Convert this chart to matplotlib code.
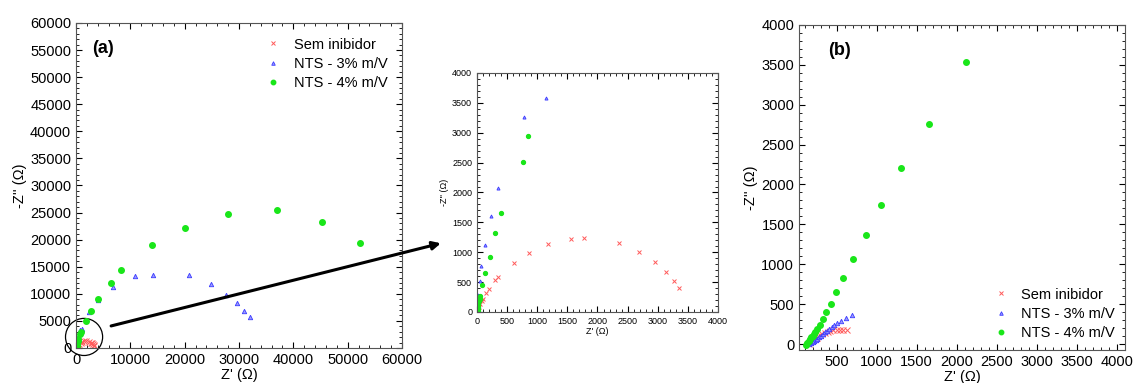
import matplotlib.pyplot as plt
from matplotlib.patches import Ellipse, ConnectionPatch
from matplotlib.ticker import MultipleLocator, AutoMinorLocator

plt.rcParams['font.family'] = ['Liberation Sans', 'DejaVu Sans']

# panel (a) / inset - full Nyquist data
semX = [20, 35, 55, 75, 100, 156, 200, 306, 356, 606, 856, 1172, 1556, 1783, 2350, 2683, 2950, 3139, 3278, 3361]
semY = [30, 80, 130, 180, 223, 318, 385, 530, 586, 820, 982, 1138, 1227, 1238, 1160, 1004, 837, 669, 524, 402]

nts3X = [12, 15, 18, 20, 25, 44, 72, 139, 239, 344, 785, 1150, 2340, 4000, 6840, 10790, 14180, 20840, 24780, 27620, 29650, 30950, 32060]
nts3Y = [40, 100, 170, 240, 290, 519, 764, 1127, 1612, 2075, 3260, 3580, 6600, 8830, 11300, 13210, 13460, 13460, 11790, 9750, 8330, 6790, 5740]

nts4X = [10, 15, 20, 25, 35, 45, 56, 89, 133, 217, 294, 406, 767, 850, 1850, 2780, 4130, 6400, 8200, 14000, 20100, 28000, 37000, 45300, 52200]
nts4Y = [20, 50, 90, 130, 180, 220, 262, 452, 647, 920, 1328, 1657, 2516, 2951, 4940, 6800, 9070, 12000, 14400, 19070, 22200, 24750, 25400, 23300, 19400]

# panel (b)
bSemX = [150, 170, 190, 210, 230, 250, 270, 295, 320, 350, 387, 420, 458, 500, 541, 583, 625]
bSemY = [5, 20, 35, 50, 66, 80, 95, 110, 125, 138, 150, 162, 170, 172, 172, 172, 170]

bNts3X = [160, 180, 200, 220, 240, 260, 285, 310, 335, 360, 385, 410, 440, 470, 510, 560, 620, 688]
bNts3Y = [3, 10, 20, 32, 48, 65, 85, 105, 125, 145, 165, 185, 210, 235, 260, 290, 330, 365]

bNts4X = [117, 133, 150, 167, 185, 200, 215, 229, 258, 292, 325, 371, 429, 496, 583, 708, 862, 1058, 1308, 1650, 2112]
bNts4Y = [-8, 13, 38, 63, 85, 104, 125, 146, 192, 242, 309, 401, 501, 656, 831, 1061, 1370, 1745, 2209, 2760, 3537]

labels = ['Sem inibidor', 'NTS - 3% m/V', 'NTS - 4% m/V']
red = '#ff5a5a'
blue = '#3a3aff'
green = '#19e619'


def style(ax, fs):
    ax.tick_params(which='both', direction='in', top=True, right=True, labelsize=fs)
    ax.tick_params(which='major', length=4)
    ax.tick_params(which='minor', length=2)
    ax.xaxis.set_minor_locator(AutoMinorLocator(5))
    ax.yaxis.set_minor_locator(AutoMinorLocator(5))
    for s in ax.spines.values():
        s.set_color('#555555')


def draw(ax, sx, sy, x3, y3, x4, y4, ms):
    ax.plot(sx, sy, 'x', color=red, ms=ms, mew=0.7, label=labels[0])
    ax.plot(x3, y3, '^', color=blue, mfc='#9a9aff', ms=ms * 0.8, mew=0.6, label=labels[1])
    ax.plot(x4, y4, 'o', color=green, ms=ms, label=labels[2])


fig = plt.figure(figsize=(11.33, 3.83), dpi=100)

# (a)
axA = fig.add_axes([0.0671, 0.0914, 0.2877, 0.8486])
draw(axA, semX, semY, nts3X, nts3Y, nts4X, nts4Y, 4)
axA.set_xlim(0, 60000)
axA.set_ylim(0, 60000)
axA.xaxis.set_major_locator(MultipleLocator(10000))
axA.yaxis.set_major_locator(MultipleLocator(5000))
style(axA, 10.5)
axA.set_xlabel("Z' (Ω)", fontsize=10.5, labelpad=1)
axA.set_ylabel('-Z\'\' (Ω)', fontsize=10.5, labelpad=2)
axA.text(0.05, 0.92, '(a)', transform=axA.transAxes, fontsize=13, fontweight='bold', va='center')
axA.legend(loc='upper right', frameon=False, fontsize=10.5, handletextpad=0.4,
           labelspacing=0.35, borderaxespad=0.6, markerscale=0.8)
axA.add_patch(Ellipse((1480, 2040), 6830, 6850, fill=False, edgecolor='black', lw=0.9, clip_on=False))

# inset (zoom)
axI = fig.add_axes([0.4210, 0.1854, 0.2127, 0.624])
draw(axI, semX, semY, nts3X, nts3Y, nts4X, nts4Y, 2.8)
axI.set_xlim(0, 4000)
axI.set_ylim(0, 4000)
axI.xaxis.set_major_locator(MultipleLocator(500))
axI.yaxis.set_major_locator(MultipleLocator(500))
style(axI, 6.5)
axI.set_xlabel("Z' (Ω)", fontsize=6.5, labelpad=1)
axI.set_ylabel('-Z\'\' (Ω)', fontsize=6.5, labelpad=2)

arrow = ConnectionPatch(xyA=(6460, 4070), coordsA=axA.transData,
                        xyB=(-600, 1150), coordsB=axI.transData,
                        arrowstyle='-|>', mutation_scale=12, lw=2.2, color='black')
fig.add_artist(arrow)

# (b)
axB = fig.add_axes([0.7052, 0.0862, 0.2877, 0.8486])
draw(axB, bSemX, bSemY, bNts3X, bNts3Y, bNts4X, bNts4Y, 4)
axB.set_xlim(30, 4100)
axB.set_ylim(-75, 4000)
axB.xaxis.set_major_locator(MultipleLocator(500))
axB.yaxis.set_major_locator(MultipleLocator(500))
style(axB, 10.5)
axB.set_xlabel("Z' (Ω)", fontsize=10.5, labelpad=1)
axB.set_ylabel('-Z\'\' (Ω)', fontsize=10.5, labelpad=2)
axB.text(0.09, 0.92, '(b)', transform=axB.transAxes, fontsize=13, fontweight='bold', va='center')
axB.legend(loc='lower right', frameon=False, fontsize=10.5, handletextpad=0.4,
           labelspacing=0.35, borderaxespad=0.3, markerscale=0.8)

fig.savefig('out.png', dpi=100)
